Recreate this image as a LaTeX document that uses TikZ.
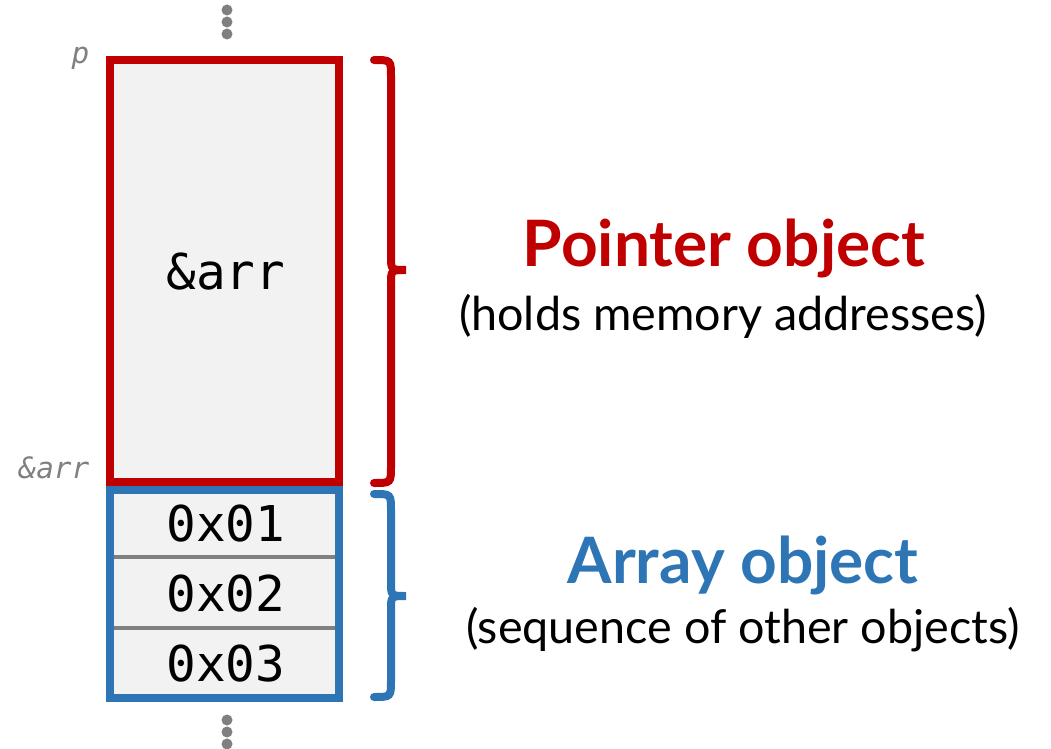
\documentclass[tikz,border=0pt]{standalone}
\usepackage{fontspec}
\setmainfont{Lato}
\newfontfamily\codefont{DejaVu Sans Mono}
\usepackage{tikz}
\usetikzlibrary{calc}

\definecolor{ptrred}{HTML}{C00000}
\definecolor{arrblue}{HTML}{2E75B6}
\definecolor{cellgray}{HTML}{F2F2F2}
\definecolor{dotgray}{HTML}{808080}

% curly brace right of a block: top y, tip y, bottom y
\def\objbrace[#1](#2:#3:#4){\draw[#1, line width=6pt, line cap=round]
	(374,#2) .. controls (391,#2) .. (391,#2+17) -- (391,#3-14)
	.. controls (391,#3) .. (406,#3) .. controls (391,#3) .. (391,#3+14)
	-- (391,#4-17) .. controls (391,#4) .. (374,#4);}

\tikzset{
	cell/.style={font=\codefont\fontsize{37}{40}\selectfont, text=black},
	addr/.style={font=\codefont\itshape\fontsize{22}{24}\selectfont, text=dotgray, anchor=base east},
	title/.style={font=\bfseries\fontsize{48}{52}\selectfont, anchor=base},
	note/.style={font=\fontsize{35}{40}\selectfont, text=black, anchor=base}
}

\begin{document}
\begin{tikzpicture}[x=0.75pt, y=-0.75pt]
				\useasboundingbox (0,0) rectangle (1051,749);
				
				% elided memory above
				\foreach \y in {10,22,34}
					\fill[dotgray] (227,\y) circle (5.5);
				
				% pointer object
				\draw[ptrred, fill=cellgray, line width=6pt] (110,60) rectangle (339,482);
				\node[cell] (ptrval) at (226,272) {\&arr};
				\node[addr] (paddr) at (94,64) {p};
				\node[addr] (aaddr) at (94,478) {\&arr};
				
				% array object
				\fill[cellgray] (110,490) rectangle (339,698);
				\draw[dotgray, line width=3pt] (110,557) -- (339,557);
				\draw[dotgray, line width=3pt] (110,628) -- (339,628);
				\draw[arrblue, line width=6pt] (110,490) rectangle (339,698);
				\node[cell] (elem1) at (226,524) {0x01};
				\node[cell] (elem2) at (226,594) {0x02};
				\node[cell] (elem3) at (226,664) {0x03};
				
				% elided memory below
				\foreach \y in {720,732,744}
					\fill[dotgray] (227,\y) circle (5.5);
				
				% braces and captions
				\objbrace[ptrred](60:270:483)
				\objbrace[arrblue](494:596:697)
				\node[title, text=ptrred] (ptrtitle) at (724,267) {Pointer object};
				\node[note] (ptrnote) at (723,330) {(holds memory addresses)};
				\node[title, text=arrblue] (arrtitle) at (743,583) {Array object};
				\node[note] (arrnote) at (743,643) {(sequence of other objects)};
			\end{tikzpicture}
\end{document}
